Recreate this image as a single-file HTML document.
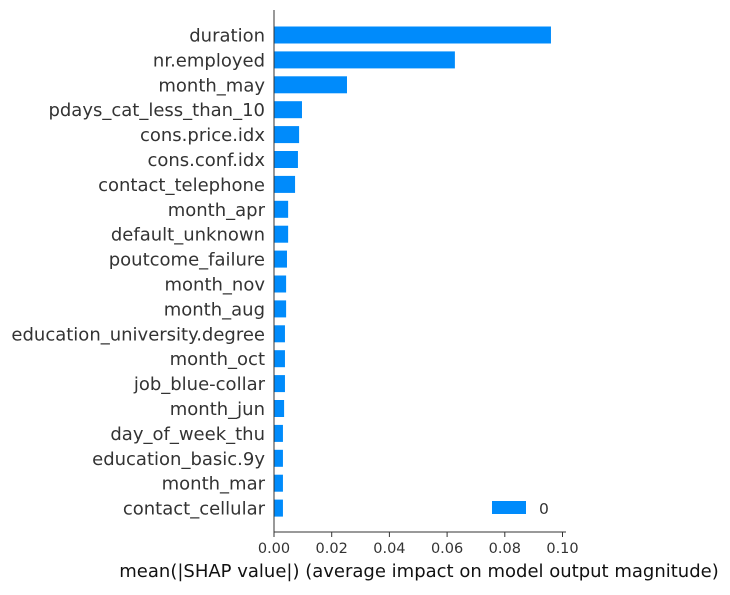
<!DOCTYPE html>
<html><head><meta charset="utf-8"><style>
body{margin:0;background:#fff;}
svg text{font-family:"DejaVu Sans","Liberation Sans",sans-serif;}
</style></head><body>
<svg id="chart" width="730" height="590">
<g id="bars"></g>
<g id="labels"></g>
<g id="ticks"></g>
<line x1="274" y1="10" x2="274" y2="532" stroke="#333" stroke-width="1"/>
<line x1="274" y1="532" x2="566" y2="532" stroke="#333" stroke-width="1"/>
<text x="419" y="577" font-size="18" fill="#111" text-anchor="middle">mean(|SHAP value|) (average impact on model output magnitude)</text>
<g>
<rect x="492" y="501" width="34" height="13" fill="#008bfb"/>
<text x="539" y="514" font-size="15.5" fill="#333">0</text>
</g>
</svg>
<script>
const features=["duration","nr.employed","month_may","pdays_cat_less_than_10","cons.price.idx","cons.conf.idx","contact_telephone","month_apr","default_unknown","poutcome_failure","month_nov","month_aug","education_university.degree","month_oct","job_blue-collar","month_jun","day_of_week_thu","education_basic.9y","month_mar","contact_cellular"];
const values=[0.0960,0.0627,0.0253,0.0097,0.0087,0.0083,0.0073,0.0049,0.0049,0.0045,0.0042,0.0042,0.0038,0.0038,0.0038,0.0035,0.0031,0.0031,0.0031,0.0031];
const tickValues=[0,0.02,0.04,0.06,0.08,0.10];
const tickLabels=["0.00","0.02","0.04","0.06","0.08","0.10"];
const NS="http://www.w3.org/2000/svg";
const x=v=>274+v*2885;
const y=i=>35+i*24.9;
const gb=document.getElementById('bars'),gl=document.getElementById('labels'),gt=document.getElementById('ticks');
features.forEach((f,i)=>{
  const r=document.createElementNS(NS,'rect');
  r.setAttribute('x',x(0));r.setAttribute('y',y(i)-8.5);
  r.setAttribute('width',x(values[i])-x(0));r.setAttribute('height',17);
  r.setAttribute('fill','#008bfb');
  
  
  gb.appendChild(r);
  const t=document.createElementNS(NS,'text');
  t.setAttribute('x',265);t.setAttribute('y',y(i)+6.5);
  t.setAttribute('text-anchor','end');t.setAttribute('font-size','18');t.setAttribute('fill','#333');
  t.textContent=f;
  
  
  gl.appendChild(t);
});
tickValues.forEach((v,i)=>{
  const l=document.createElementNS(NS,'line');
  l.setAttribute('x1',x(v));l.setAttribute('x2',x(v));l.setAttribute('y1',532);l.setAttribute('y2',537);
  l.setAttribute('stroke','#333');
  
  
  gt.appendChild(l);
  const t=document.createElementNS(NS,'text');
  t.setAttribute('x',x(v));t.setAttribute('y',553);t.setAttribute('text-anchor','middle');
  t.setAttribute('font-size','14.5');t.setAttribute('fill','#333');
  t.textContent=tickLabels[i];
  
  
  gt.appendChild(t);
});
</script>
</body></html>
